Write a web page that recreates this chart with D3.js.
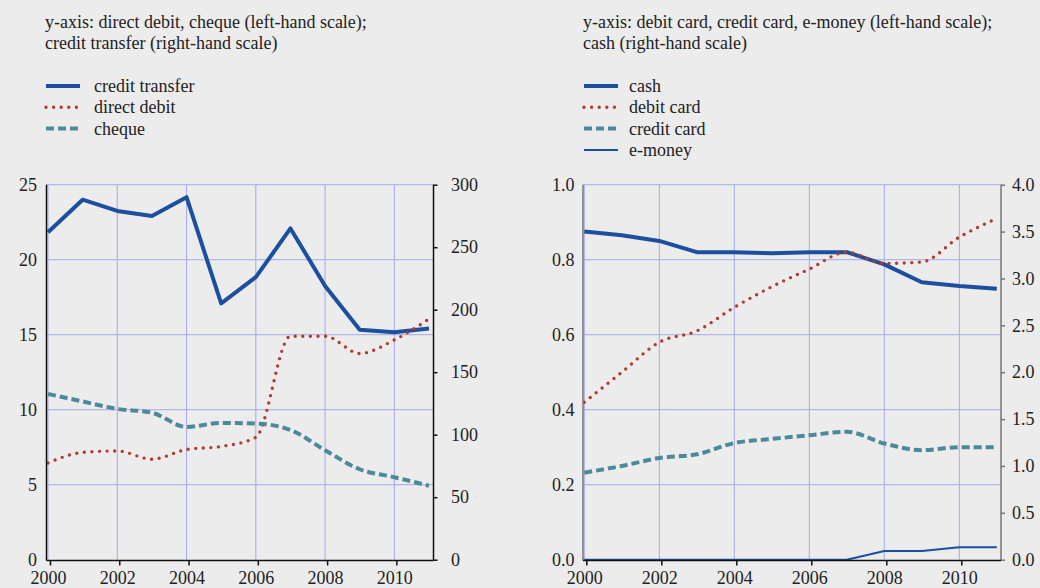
<!DOCTYPE html>
<html>
<head>
<meta charset="utf-8">
<script src="https://cdn.jsdelivr.net/npm/d3@7"></script>
<style>
  body { margin: 0; background: #ececec; }
  svg text { font-family: "Liberation Serif", "Times New Roman", serif; }
</style>
</head>
<body>
<svg id="chart" width="1040" height="588"></svg>
<script>
// years on the x axis
const years = [2000, 2001, 2002, 2003, 2004, 2005, 2006, 2007, 2008, 2009, 2010, 2011];
const yearTicks = [2000, 2002, 2004, 2006, 2008, 2010];

// left panel
const creditTransfer = [262, 288, 279, 275, 290, 205, 226, 265, 219, 184, 182, 185]; // right-hand scale
const directDebit = [6.45, 7.15, 7.25, 6.7, 7.35, 7.55, 8.15, 14.9, 14.9, 13.75, 14.65, 16.05];
const cheque = [11.05, 10.55, 10.05, 9.8, 8.85, 9.12, 9.08, 8.65, 7.3, 6.03, 5.5, 4.93];
const leftTicksL = [0, 5, 10, 15, 20, 25];
const leftTicksR = [0, 50, 100, 150, 200, 250, 300];

// right panel
const cash = [3.5, 3.46, 3.4, 3.28, 3.28, 3.27, 3.28, 3.28, 3.15, 2.96, 2.92, 2.89]; // right-hand scale
const debitCard = [0.42, 0.5, 0.58, 0.61, 0.673, 0.728, 0.775, 0.82, 0.79, 0.794, 0.86, 0.91];
const creditCard = [0.232, 0.25, 0.271, 0.281, 0.311, 0.322, 0.332, 0.341, 0.31, 0.292, 0.3, 0.3];
const eMoney = [0, 0, 0, 0, 0, 0, 0, 0, 0.023, 0.023, 0.033, 0.033];
const rightTicksL = [0, 0.2, 0.4, 0.6, 0.8, 1.0];
const rightTicksR = [0, 0.5, 1.0, 1.5, 2.0, 2.5, 3.0, 3.5, 4.0];

const BLUE = "#1c4f9f", RED = "#b23a2f", TEAL = "#4d8999", GRID = "#a3aae6", TXT = "#222";
const FONT = "Liberation Serif";
const FS = 18;

const svg = d3.select("#chart");

const styles = {
  solid: {w: 4, dash: null, cap: "butt"},
  thin: {w: 2, dash: null, cap: "butt"},
  dotted: {w: 3.4, dash: "0 7.6", cap: "round"},
  dashed: {w: 4, dash: "8 4", cap: "butt"}
};

function drawPanel(p) {
  const g = svg.append("g");
  const x = d3.scaleLinear().domain([2000, 2011]).range([p.x0, p.x1]);
  const yL = d3.scaleLinear().domain(p.domL).range([559.7, 184.7]);
  const yR = d3.scaleLinear().domain(p.domR).range([559.7, 184.7]);

  // title
  p.title.forEach((t, i) => {
    g.append("text").attr("x", p.tx).attr("y", 28 + i * 21)
      .attr("font-family", FONT).attr("font-size", FS).attr("fill", TXT).text(t);
  });

  // legend
  p.series.forEach((s, i) => {
    const cy = 86 + i * 21.3;
    const st = styles[s.style];
    g.append("line").attr("x1", p.tx + 1).attr("x2", p.tx + 35)
      .attr("y1", cy).attr("y2", cy)
      .attr("stroke", s.color).attr("stroke-width", st.w)
      .attr("stroke-dasharray", st.dash).attr("stroke-linecap", st.cap);
    g.append("text").attr("x", p.tx + p.legendTextDx).attr("y", cy + 6)
      .attr("font-family", FONT).attr("font-size", FS).attr("fill", TXT).text(s.name);
  });

  // grid
  g.append("g").selectAll("line").data(p.ticksL.slice(1)).join("line")
    .attr("x1", p.axL).attr("x2", p.axR)
    .attr("y1", d => yL(d)).attr("y2", d => yL(d))
    .attr("stroke", GRID).attr("stroke-width", 1);
  g.append("g").selectAll("line").data(yearTicks).join("line")
    .attr("x1", d => x(d)).attr("x2", d => x(d))
    .attr("y1", 184.7).attr("y2", 559.7)
    .attr("stroke", GRID).attr("stroke-width", 1);

  // series
  p.series.forEach(s => {
    const st = styles[s.style];
    const sc = s.axis === "R" ? yR : yL;
    const line = d3.line().x((d, i) => x(years[i])).y(d => sc(d))
      .curve(s.smooth ? d3.curveMonotoneX : d3.curveLinear);
    g.append("path").datum(s.values).attr("d", line)
      .attr("fill", "none").attr("stroke", s.color).attr("stroke-width", st.w)
      .attr("stroke-dasharray", st.dash).attr("stroke-linecap", st.cap)
      .attr("stroke-linejoin", "round");
  });

  // axes
  const ax = g.append("g");
  const left = ax.append("g").attr("transform", `translate(${p.axL},0)`)
    .call(d3.axisLeft(yL).tickValues(p.ticksL).tickFormat(p.fmtL).tickSize(0).tickPadding(p.padL));
  const right = ax.append("g").attr("transform", `translate(${p.axR},0)`)
    .call(d3.axisRight(yR).tickValues(p.ticksR).tickFormat(p.fmtR).tickSize(4).tickPadding(p.padR));
  const bottom = ax.append("g").attr("transform", "translate(0,560.5)")
    .call(d3.axisBottom(x).tickValues(yearTicks).tickFormat(d3.format("d")).tickSize(5).tickPadding(5.5));
  bottom.select(".domain").remove();
  bottom.append("line").attr("x1", p.axL).attr("x2", p.axR).attr("y1", 0).attr("y2", 0)
    .attr("stroke", "#111").attr("stroke-width", 1.5);
  bottom.selectAll(".tick line").attr("stroke", "#111").attr("stroke-width", 1.5)
    .attr("transform", "translate(2,0)");

  [left, right, bottom].forEach(a => a.attr("font-family", FONT));
  [left, right].forEach(a => {
    a.select(".domain").remove();
    a.append("line").attr("y1", 184.7).attr("y2", 560.5)
      .attr("stroke", p.axisColor).attr("stroke-width", 1.5);
  });
  right.selectAll(".tick line").attr("stroke", p.axisColor).attr("stroke-width", 1.5);
  ax.selectAll(".tick text").attr("font-family", FONT).attr("font-size", FS).attr("fill", TXT);
}

drawPanel({
  x0: 48, x1: 429, axL: 46.5, axR: 433.5, tx: 45, legendTextDx: 49,
  domL: [0, 25], domR: [0, 300], ticksL: leftTicksL, ticksR: leftTicksR,
  fmtL: d3.format("d"), fmtR: d3.format("d"), padL: 9.5, padR: 13.5,
  axisColor: "#111",
  title: ["y-axis: direct debit, cheque (left-hand scale);", "credit transfer (right-hand scale)"],
  series: [
    {name: "credit transfer", values: creditTransfer, axis: "R", color: BLUE, style: "solid", smooth: false},
    {name: "direct debit", values: directDebit, axis: "L", color: RED, style: "dotted", smooth: true},
    {name: "cheque", values: cheque, axis: "L", color: TEAL, style: "dashed", smooth: true}
  ]
});

drawPanel({
  x0: 584.3, x1: 996.8, axL: 583, axR: 1001, tx: 583, legendTextDx: 46,
  domL: [0, 1], domR: [0, 4], ticksL: rightTicksL, ticksR: rightTicksR,
  fmtL: d3.format(".1f"), fmtR: d3.format(".1f"), padL: 8.5, padR: 7,
  axisColor: "#777",
  title: ["y-axis: debit card, credit card, e-money (left-hand scale);", "cash (right-hand scale)"],
  series: [
    {name: "cash", values: cash, axis: "R", color: BLUE, style: "solid", smooth: false},
    {name: "debit card", values: debitCard, axis: "L", color: RED, style: "dotted", smooth: true},
    {name: "credit card", values: creditCard, axis: "L", color: TEAL, style: "dashed", smooth: true},
    {name: "e-money", values: eMoney, axis: "L", color: BLUE, style: "thin", smooth: false}
  ]
});
</script>
</body>
</html>
